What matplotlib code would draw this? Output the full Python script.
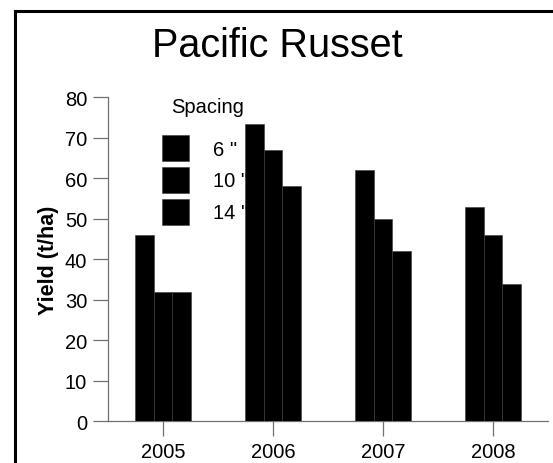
"""Pacific Russet yield by year and in-row spacing (bar chart)."""
import matplotlib
matplotlib.use("Agg")
import matplotlib.pyplot as plt
import numpy as np
from matplotlib.lines import Line2D

plt.rcParams["font.family"] = ["Liberation Sans", "DejaVu Sans"]

years = ["2005", "2006", "2007", "2008"]
spacings = ['6 "', '10 "', '14 "']
yield_6 = [46, 73.5, 62, 53]
yield_10 = [32, 67, 50, 46]
yield_14 = [32, 58, 42, 34]

W, H = 553, 464
fig = plt.figure(figsize=(W / 100, H / 100), dpi=100)
ax = fig.add_axes([108 / W, 1 - 422.3 / H, 440 / W, (422.3 - 98.3) / H])

x = np.arange(len(years))
w = 0.169
axis_col = "#707070"
for i, (vals, lab) in enumerate(zip([yield_6, yield_10, yield_14], spacings)):
    ax.bar(x + (i - 1) * w, vals, width=w, color="black", edgecolor="#3a3a3a",
           linewidth=0.4, label=lab, zorder=3)

ax.set_xlim(-0.5, 3.5)
ax.set_ylim(0, 80)
ax.set_yticks(range(0, 81, 10))
ax.set_xticks(x)
ax.set_xticklabels(years)
ax.tick_params(axis="both", labelsize=14.5, length=11, width=0.9, color=axis_col,
               direction="out", pad=4)
for side in ("top", "right"):
    ax.spines[side].set_visible(False)
for side in ("left", "bottom"):
    ax.spines[side].set_color(axis_col)
    ax.spines[side].set_linewidth(0.9)

ax.set_ylabel("Yield (t/ha)", fontsize=15.5, fontweight="bold", labelpad=4)

# legend sits underneath the bars, as in the original
leg = ax.legend(loc="upper left", bbox_to_anchor=(162 / W, 1 - 136 / H),
                bbox_transform=fig.transFigure, borderpad=0, borderaxespad=0,
                frameon=False, fontsize=14.5,
                handlelength=1.35, handleheight=1.6, handletextpad=1.2,
                labelspacing=0.3)
leg.set_zorder(1)
fig.text(208 / W, 1 - 108 / H, "Spacing", fontsize=14.5, ha="center", va="center")

fig.text(277 / W, 1 - 46 / H, "Pacific Russet", fontsize=28.5, ha="center", va="center")

# outer frame (only top and left edges visible in the crop)
fig.add_artist(Line2D([15 / W, 1.0], [1 - 12 / H] * 2, color="black", lw=2.2,
                      transform=fig.transFigure))
fig.add_artist(Line2D([15 / W] * 2, [0.0, 1 - 12 / H], color="black", lw=2.2,
                      transform=fig.transFigure))

fig.savefig("out.png", dpi=100)
